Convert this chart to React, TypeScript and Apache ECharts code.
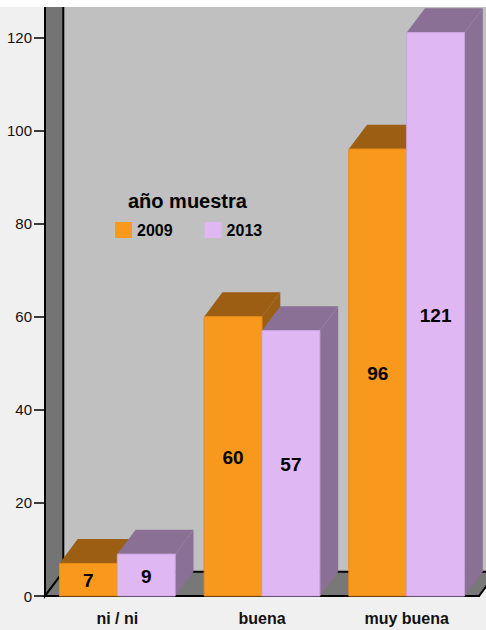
import React, { useEffect, useRef } from 'react';
import * as echarts from 'echarts';

const categories = ['ni / ni', 'buena', 'muy buena'];
const years = ['2009', '2013'];
const values2009 = [7, 60, 96];
const values2013 = [9, 57, 121];
const yTicks = [0, 20, 40, 60, 80, 100, 120];
const legendTitle = 'año muestra';

const FONT = '"Liberation Sans", Arial, Helvetica, sans-serif';
const DX = 18.3;
const DY = -24.3;
const FRONT = ['#F8981D', '#DFB8F3'];
const SHADE = ['#9B5E12', '#8A7094'];
const EDGE = ['#E58A15', '#CDA3E0'];

function barRender(si: number) {
  return (params: any, api: any) => {
    const ci = api.value(0);
    const v = api.value(1);
    const base = api.coord([ci, 0]);
    const top = api.coord([ci, v]);
    const band = api.size([1, 0])[0];
    const w = band * 0.4;
    const x0 = si === 0 ? base[0] - w : base[0];
    const x1 = x0 + w;
    const y0 = base[1];
    const y1 = top[1];
    return {
      type: 'group',
      children: [
        {
          type: 'polygon',
          shape: { points: [[x1, y0], [x1 + DX, y0 + DY], [x1 + DX, y1 + DY], [x1, y1]] },
          style: { fill: SHADE[si] },
        },
        {
          type: 'polygon',
          shape: { points: [[x0, y1], [x1, y1], [x1 + DX, y1 + DY], [x0 + DX, y1 + DY]] },
          style: { fill: SHADE[si] },
        },
        {
          type: 'rect',
          shape: { x: x0, y: y1, width: w, height: y0 - y1 },
          style: { fill: FRONT[si], stroke: EDGE[si], lineWidth: 1 },
        },
        {
          type: 'text',
          x: (x0 + x1) / 2,
          y: (y0 + y1) / 2 + 1,
          style: {
            text: String(v),
            fill: '#000',
            fontSize: 19,
            fontWeight: 'bold',
            fontFamily: FONT,
            align: 'center',
            verticalAlign: 'middle',
          },
        },
      ],
    };
  };
}

function wallRender(params: any) {
  const cs = params.coordSys;
  const x = cs.x;
  const y = cs.y;
  const w = cs.width;
  const h = cs.height;
  const yb = y + h;
  return {
    type: 'group',
    children: [
      {
        type: 'rect',
        shape: { x: x + DX, y: y - 100, width: w + 40, height: h + 100 + DY },
        style: { fill: '#C0C0C0' },
      },
      {
        type: 'polygon',
        shape: { points: [[x, yb], [x, y - 100], [x + DX, y - 100], [x + DX, yb + DY]] },
        style: { fill: '#747474', stroke: '#000', lineWidth: 2 },
      },
      {
        type: 'polygon',
        shape: { points: [[x, yb], [x + w, yb], [x + w + DX, yb + DY], [x + DX, yb + DY]] },
        style: { fill: '#787878', stroke: '#000', lineWidth: 2 },
      },
    ],
  };
}

export default function App() {
  const ref = useRef<HTMLDivElement>(null);
  useEffect(() => {
    if (!ref.current) return;
    const chart = echarts.init(ref.current, null, { renderer: 'svg' });
    chart.setOption({
      animation: false,
      backgroundColor: '#F0F0F0',
      title: {
        text: legendTitle,
        left: 128,
        top: 184,
        padding: 0,
        textStyle: { fontSize: 20, fontWeight: 'bold', color: '#000', fontFamily: FONT },
      },
      legend: {
        data: years,
        left: 115,
        top: 215,
        padding: 0,
        icon: 'rect',
        itemWidth: 17,
        itemHeight: 16,
        itemGap: 32,
        itemTextGap: 8,
        textStyle: { fontSize: 16, fontWeight: 'bold', color: '#000', fontFamily: FONT },
      },
      grid: { left: 45, right: 7, top: 0, bottom: 34, containLabel: false },
      xAxis: {
        type: 'category',
        data: categories,
        boundaryGap: true,
        axisLine: { lineStyle: { color: '#000', width: 2 } },
        axisTick: { alignWithLabel: true, length: 10, lineStyle: { color: '#000', width: 1.5 } },
        axisLabel: { fontSize: 16, fontWeight: 'bold', color: '#111', margin: 14, fontFamily: FONT },
        splitLine: { show: false },
      },
      yAxis: {
        type: 'value',
        min: 0,
        max: 126.5,
        axisLine: { show: true, lineStyle: { color: '#000', width: 2 } },
        axisTick: { show: true, length: 11, customValues: yTicks, lineStyle: { color: '#000', width: 1.5 } },
        axisLabel: { customValues: yTicks, fontSize: 15, color: '#111', margin: 13, fontFamily: FONT },
        splitLine: { show: false },
      },
      series: [
        {
          type: 'custom',
          name: 'walls',
          silent: true,
          z: 1,
          renderItem: wallRender,
          data: [[0, 0]],
          encode: { x: 0, y: 1 },
        },
        {
          type: 'custom',
          name: years[0],
          z: 2,
          itemStyle: { color: FRONT[0] },
          renderItem: barRender(0),
          data: values2009.map((v, i) => [i, v]),
          encode: { x: 0, y: 1 },
        },
        {
          type: 'custom',
          name: years[1],
          z: 2,
          itemStyle: { color: FRONT[1] },
          renderItem: barRender(1),
          data: values2013.map((v, i) => [i, v]),
          encode: { x: 0, y: 1 },
        },
      ],
    });
    return () => chart.dispose();
  }, []);
  return (
    <div
      ref={ref}
      style={{ position: 'absolute', left: 0, top: 7, width: 486, height: 623 }}
    />
  );
}
